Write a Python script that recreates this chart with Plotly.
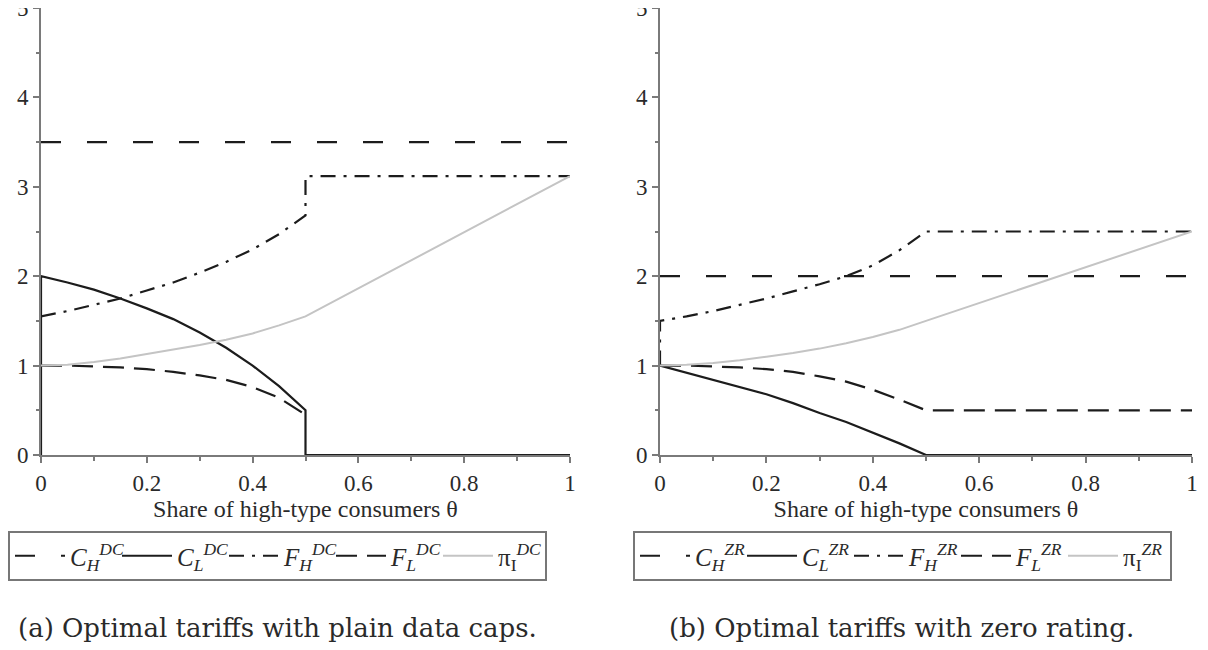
import plotly.graph_objects as go

# ---------------- data ----------------
theta = [0.0, 0.05, 0.1, 0.15, 0.2, 0.25, 0.3, 0.35, 0.4, 0.45, 0.5]

# (a) plain data caps
CH_dc = 3.5
CL_dc = [2.0, 1.93, 1.85, 1.75, 1.64, 1.52, 1.37, 1.20, 1.00, 0.77, 0.50]
FH_dc = [1.55, 1.61, 1.68, 1.75, 1.84, 1.93, 2.04, 2.16, 2.30, 2.47, 2.68]
FH_dc_high = 3.12
FL_dc = [1.0, 1.0, 0.99, 0.98, 0.96, 0.93, 0.89, 0.84, 0.76, 0.64, 0.45]
PI_dc = [1.0, 1.01, 1.04, 1.08, 1.13, 1.18, 1.23, 1.29, 1.36, 1.45, 1.55]
PI_dc_end = 3.12

# (b) zero rating
CH_zr = 2.0
CL_zr = [1.0, 0.92, 0.84, 0.76, 0.68, 0.58, 0.47, 0.37, 0.25, 0.13, 0.0]
FH_zr_start = 1.0
FH_zr = [1.5, 1.55, 1.61, 1.68, 1.75, 1.83, 1.91, 2.0, 2.12, 2.29, 2.5]
FL_zr = [1.0, 1.0, 0.99, 0.98, 0.96, 0.93, 0.88, 0.82, 0.73, 0.62, 0.5]
PI_zr = [1.0, 1.01, 1.03, 1.06, 1.10, 1.14, 1.19, 1.25, 1.32, 1.40, 1.5]
PI_zr_end = 2.5

x_ticks = [0, 0.2, 0.4, 0.6, 0.8, 1]
x_ticklabels = ["0", "0.2", "0.4", "0.6", "0.8", "1"]
y_ticks = [0, 1, 2, 3, 4, 5]

x_title = "Share of high-type consumers θ"
captions = ["(a) Optimal tariffs with plain data caps.",
            "(b) Optimal tariffs with zero rating."]

# ---------------- styles ----------------
FONT = "Liberation Serif"
CAP_FONT = "DejaVu Serif"
DARK = "#1c1c1c"
GRAY_LINE = "#c4c4c4"
AX = "#7a7a7a"
TXT = "#2a2a2a"
DASH_CH = "20px,26px"
DASH_FL = "21px,10px"
DASH_FH = "15px,8px,3px,8px"

# the page body has an 8px margin; the figure is sized to fit the window
OFF = 8
W, H = 1200, 642


def px(xp):
    return min(1.0, max(0.0, (xp - OFF) / W))


def py(yp):
    return min(1.0, max(0.0, 1 - (yp - OFF) / H))


fig = go.Figure()


def lab(sym, sub, sup):
    return f"<i>{sym}</i><sub><i>{sub}</i></sub><sup><i>{sup}</i></sup>"


def add_panel(xa, ya, leg, suf, CH, CL_x, CL_y, FH_x, FH_y, FL_x, FL_y, PI_x, PI_y):
    fig.add_trace(go.Scatter(x=[0, 1], y=[CH, CH], mode="lines", xaxis=xa, yaxis=ya,
                             line=dict(color=DARK, width=2.2, dash=DASH_CH),
                             name=lab("C", "H", suf), legend=leg))
    fig.add_trace(go.Scatter(x=CL_x, y=CL_y, mode="lines", xaxis=xa, yaxis=ya,
                             line=dict(color=DARK, width=2.2),
                             name=lab("C", "L", suf), legend=leg))
    fig.add_trace(go.Scatter(x=FH_x, y=FH_y, mode="lines", xaxis=xa, yaxis=ya,
                             line=dict(color=DARK, width=2.2, dash=DASH_FH),
                             name=lab("F", "H", suf), legend=leg))
    fig.add_trace(go.Scatter(x=FL_x, y=FL_y, mode="lines", xaxis=xa, yaxis=ya,
                             line=dict(color=DARK, width=2.2, dash=DASH_FL),
                             name=lab("F", "L", suf), legend=leg))
    fig.add_trace(go.Scatter(x=PI_x, y=PI_y, mode="lines", xaxis=xa, yaxis=ya,
                             line=dict(color=GRAY_LINE, width=2),
                             name="π<sub>I</sub><sup><i>" + suf + "</i></sup>", legend=leg))


# panel (a)
add_panel("x", "y", "legend", "DC", CH_dc,
          [0.0] + theta + [0.5, 1.0], [0.0] + CL_dc + [0.0, 0.0],
          theta + [0.5, 1.0], FH_dc + [FH_dc_high, FH_dc_high],
          theta, FL_dc,
          theta + [1.0], PI_dc + [PI_dc_end])

# panel (b)
add_panel("x2", "y2", "legend2", "ZR", CH_zr,
          theta + [1.0], CL_zr + [0.0],
          [0.0] + theta + [1.0], [FH_zr_start] + FH_zr + [FH_zr[-1]],
          theta + [1.0], FL_zr + [FL_zr[-1]],
          theta + [1.0], PI_zr + [PI_zr_end])

xcommon = dict(range=[0, 1], tickvals=x_ticks, ticktext=x_ticklabels,
               ticks="outside", ticklen=6, tickwidth=1.5, tickcolor=AX,
               minor=dict(dtick=0.1, ticks="outside", ticklen=4, tickcolor=AX, tickwidth=1.5),
               showline=True, linecolor=AX, linewidth=2, showgrid=False, zeroline=False,
               tickfont=dict(family=FONT, size=23, color=TXT),
               ticklabeloverflow="allow",
               title=dict(text=x_title, font=dict(family=FONT, size=24, color=TXT), standoff=4),
               layer="below traces", fixedrange=True)
ycommon = dict(range=[0, 5], tickvals=y_ticks,
               ticks="outside", ticklen=6, tickwidth=1.5, tickcolor=AX,
               minor=dict(dtick=0.5, ticks="outside", ticklen=3, tickcolor=AX, tickwidth=1.5),
               showline=True, linecolor=AX, linewidth=2, showgrid=False, zeroline=False,
               tickfont=dict(family=FONT, size=23, color=TXT),
               ticklabeloverflow="allow",
               layer="below traces", fixedrange=True)

y_dom = [py(455), py(8)]

legcommon = dict(orientation="h", bordercolor="#777", borderwidth=2, bgcolor="white",
                 font=dict(family=FONT, size=25, color=TXT),
                 entrywidth=42, entrywidthmode="pixels", itemwidth=50,
                 yanchor="top", xanchor="left", tracegroupgap=0)

fig.update_layout(
    width=W, height=H, margin=dict(l=0, r=0, t=0, b=0, autoexpand=False),
    paper_bgcolor="white", plot_bgcolor="white",
    xaxis=dict(domain=[px(41), px(570)], anchor="y", **xcommon),
    yaxis=dict(domain=y_dom, anchor="x", **ycommon),
    xaxis2=dict(domain=[px(660), px(1192)], anchor="y2", **xcommon),
    yaxis2=dict(domain=y_dom, anchor="x2", **ycommon),
    legend=dict(x=px(7), y=py(531), **legcommon),
    legend2=dict(x=px(633), y=py(531), **legcommon),
    showlegend=True,
    annotations=[
        dict(text=captions[0], x=px(277), y=py(628), xref="paper", yref="paper",
             xanchor="center", yanchor="middle",
             showarrow=False, font=dict(family=CAP_FONT, size=26, color=TXT)),
        dict(text=captions[1], x=px(901), y=py(628), xref="paper", yref="paper",
             xanchor="center", yanchor="middle",
             showarrow=False, font=dict(family=CAP_FONT, size=26, color=TXT)),
    ],
)

fig.write_html("out.html")
